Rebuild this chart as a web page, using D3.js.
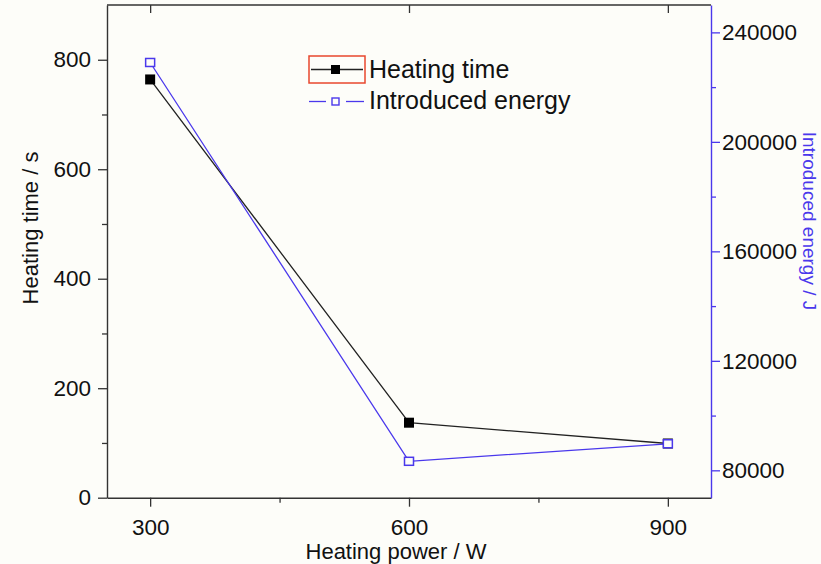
<!DOCTYPE html>
<html>
<head>
<meta charset="utf-8">
<script src="https://cdn.jsdelivr.net/npm/d3@7"></script>
<style>
  html, body { margin: 0; padding: 0; background: #fdfdf9; }
  svg { display: block; font-family: "Liberation Sans", Arial, sans-serif; }
</style>
</head>
<body>
<svg id="chart" width="821" height="564"></svg>
<script>
// Heating power (W) and the two measured responses
const power = [300, 600, 900];
const heatingTime = [764, 137, 99];          // s
const introducedEnergy = [229000, 83300, 89700]; // J

const xTicks = [300, 600, 900];
const xMinor = [450, 750];
const yLeftTicks = [0, 200, 400, 600, 800];
const yLeftMinor = [100, 300, 500, 700];
const yRightTicks = [80000, 120000, 160000, 200000, 240000];
const yRightMinor = [100000, 140000, 180000, 220000];

const legendLabels = ["Heating time", "Introduced energy"];

const BLUE = "#4a38ec";
const BLACK = "#222";

const W = 821, H = 564;
const m = { left: 107, right: W - 711, top: 5, bottom: H - 497.7 };

const svg = d3.select("#chart");
svg.append("rect").attr("width", W).attr("height", H).attr("fill", "#fdfdf9");

const x = d3.scaleLinear().domain([250, 950]).range([m.left, W - m.right]);
const yL = d3.scaleLinear().domain([0, 900]).range([H - m.bottom, m.top]);
const yR = d3.scaleLinear().domain([70000, 250000]).range([H - m.bottom, m.top]);

const x0 = m.left, x1 = W - m.right, yTop = m.top, yBot = H - m.bottom;

// frame: top line
svg.append("line").attr("x1", x0).attr("x2", x1).attr("y1", yTop).attr("y2", yTop)
  .attr("stroke", "#333").attr("stroke-width", 1.4);

function styleAxis(g, color) {
  g.selectAll(".domain").attr("stroke", color).attr("stroke-width", 1.4);
  g.selectAll(".tick line").attr("stroke", color).attr("stroke-width", 1.3);
  g.selectAll(".tick text").attr("fill", "#111").attr("font-size", 22.5)
    .attr("font-family", "Liberation Sans, Arial, sans-serif");
}

// bottom axis
const gx = svg.append("g").attr("transform", `translate(0,${yBot})`)
  .call(d3.axisBottom(x).tickValues(xTicks).tickSize(9).tickSizeOuter(0).tickPadding(12).tickFormat(d3.format("d")));
styleAxis(gx, "#333");
svg.append("g").attr("transform", `translate(0,${yBot})`)
  .call(d3.axisBottom(x).tickValues(xMinor).tickSize(5).tickSizeOuter(0).tickFormat(""))
  .call(g => { g.select(".domain").remove(); g.selectAll("line").attr("stroke", "#333").attr("stroke-width", 1.3); });

// top axis: inward major ticks
svg.append("g").attr("transform", `translate(0,${yTop})`)
  .call(d3.axisBottom(x).tickValues(xTicks).tickSize(8).tickSizeOuter(0).tickFormat(""))
  .call(g => { g.select(".domain").remove(); g.selectAll("line").attr("stroke", "#333").attr("stroke-width", 1.3); });

// left axis
const gl = svg.append("g").attr("transform", `translate(${x0},0)`)
  .call(d3.axisLeft(yL).tickValues(yLeftTicks).tickSize(9).tickSizeOuter(0).tickPadding(7));
styleAxis(gl, "#333");
svg.append("g").attr("transform", `translate(${x0},0)`)
  .call(d3.axisLeft(yL).tickValues(yLeftMinor).tickSize(5).tickSizeOuter(0).tickFormat(""))
  .call(g => { g.select(".domain").remove(); g.selectAll("line").attr("stroke", "#333").attr("stroke-width", 1.3); });

// right axis
const gr = svg.append("g").attr("transform", `translate(${x1},0)`)
  .call(d3.axisRight(yR).tickValues(yRightTicks).tickSize(9).tickSizeOuter(0).tickPadding(2).tickFormat(d3.format("d")));
styleAxis(gr, BLUE);
svg.append("g").attr("transform", `translate(${x1},0)`)
  .call(d3.axisRight(yR).tickValues(yRightMinor).tickSize(5).tickSizeOuter(0).tickFormat(""))
  .call(g => { g.select(".domain").remove(); g.selectAll("line").attr("stroke", BLUE).attr("stroke-width", 1.3); });

// axis titles
svg.append("text").attr("x", 396).attr("y", 559)
  .attr("text-anchor", "middle").attr("font-size", 22).attr("fill", "#111")
  .text("Heating power / W");
svg.append("text").attr("transform", `translate(38,228) rotate(-90)`)
  .attr("text-anchor", "middle").attr("font-size", 22).attr("fill", "#111")
  .text("Heating time / s");
svg.append("text").attr("transform", `translate(802.5,221) rotate(90)`)
  .attr("text-anchor", "middle").attr("font-size", 19).attr("fill", BLUE)
  .text("Introduced energy / J");

// series lines
const timePts = power.map((p, i) => [x(p), yL(heatingTime[i])]);
const energyPts = power.map((p, i) => [x(p), yR(introducedEnergy[i])]);
const line = d3.line();

svg.append("path").attr("d", line(timePts)).attr("fill", "none")
  .attr("stroke", BLACK).attr("stroke-width", 1.3);
svg.append("path").attr("d", line(energyPts)).attr("fill", "none")
  .attr("stroke", BLUE).attr("stroke-width", 1.3);

// markers
svg.selectAll(".mt").data(timePts).enter().append("rect")
  .attr("x", d => d[0] - 5).attr("y", d => d[1] - 5).attr("width", 10).attr("height", 10)
  .attr("fill", "#000");
svg.selectAll(".me").data(energyPts).enter().append("rect")
  .attr("x", d => d[0] - 4.5).attr("y", d => d[1] - 4).attr("width", 9).attr("height", 8)
  .attr("fill", "#fdfdf9").attr("stroke", BLUE).attr("stroke-width", 1.5);

// legend
const lg = svg.append("g");
lg.append("rect").attr("x", 309).attr("y", 56).attr("width", 56).attr("height", 27)
  .attr("fill", "none").attr("stroke", "#e8472e").attr("stroke-width", 1.5);
lg.append("line").attr("x1", 311).attr("x2", 363).attr("y1", 69.5).attr("y2", 69.5)
  .attr("stroke", BLACK).attr("stroke-width", 1.3);
lg.append("rect").attr("x", 331).attr("y", 65).attr("width", 9).attr("height", 9).attr("fill", "#000");
lg.append("text").attr("x", 369).attr("y", 78).attr("font-size", 25).attr("fill", "#111").text(legendLabels[0]);

lg.append("line").attr("x1", 309).attr("x2", 326).attr("y1", 101.5).attr("y2", 101.5)
  .attr("stroke", BLUE).attr("stroke-width", 1.3);
lg.append("line").attr("x1", 346).attr("x2", 364).attr("y1", 101.5).attr("y2", 101.5)
  .attr("stroke", BLUE).attr("stroke-width", 1.3);
lg.append("rect").attr("x", 332).attr("y", 98).attr("width", 7).attr("height", 7)
  .attr("fill", "none").attr("stroke", BLUE).attr("stroke-width", 1.4);
lg.append("text").attr("x", 369).attr("y", 109).attr("font-size", 25).attr("fill", "#111").text(legendLabels[1]);
</script>
</body>
</html>
